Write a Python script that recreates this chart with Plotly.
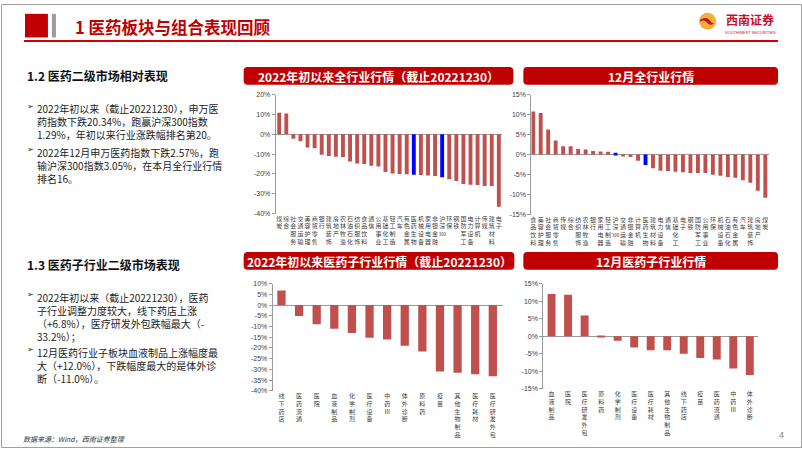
import re
import plotly.graph_objects as go

W, H = 802, 451

# ---------------- data ----------------
ytd_ind_cats = ["煤炭", "综合", "社会服务", "交通运输", "美容护理", "商贸零售", "银行", "建筑装饰",
                "房地产", "农林牧渔", "石油石化", "纺织服饰", "食品饮料", "通信", "公用事业", "基础化工",
                "轻工制造", "汽车", "有色金属", "医药生物", "机械设备", "家用电器", "非银金融", "沪深300",
                "环保", "钢铁", "国防军工", "电力设备", "计算机", "传媒", "建筑材料", "电子"]
ytd_ind_vals = [10.8, 10.5, -2.3, -3.5, -6.6, -7.0, -10.3, -10.9, -11.3, -11.5, -13.7, -14.7,
                -15.0, -15.8, -16.2, -19.0, -19.8, -20.0, -20.1, -20.34, -20.5, -20.8, -21.0, -21.63,
                -22.6, -23.5, -25.0, -25.4, -25.5, -26.0, -26.1, -36.5]

dec_ind_cats = ["食品饮料", "美容护理", "社会服务", "商贸零售", "传媒", "综合", "纺织服饰", "农林牧渔",
                "银行", "家用电器", "轻工制造", "沪深300", "交通运输", "非银金融", "计算机", "医药生物",
                "建筑材料", "电力设备", "通信", "基础化工", "电子", "钢铁", "国防军工", "公用事业",
                "环保", "机械设备", "石油石化", "有色金属", "汽车", "建筑装饰", "房地产", "煤炭"]
dec_ind_vals = [10.8, 10.4, 6.3, 3.5, 2.1, 2.1, 1.4, 1.3, 0.9, 0.8, 0.7, 0.48, -0.4, -0.6, -1.5,
                -2.57, -3.4, -4.0, -4.1, -4.3, -4.4, -4.6, -4.6, -4.6, -5.0, -5.3, -5.6, -5.8,
                -6.4, -7.0, -9.0, -10.8]

ytd_sub_cats = ["线下药店", "医药流通", "医院", "血液制品", "化学制剂", "医疗设备", "中药Ⅲ", "体外诊断",
                "原料药", "疫苗", "其他生物制品", "医疗耗材", "医疗研发外包"]
ytd_sub_vals = [6.8, -5.1, -9.0, -11.0, -13.0, -15.2, -16.0, -19.0, -21.7, -31.0, -31.6, -32.2, -33.2]

dec_sub_cats = ["血液制品", "医院", "医疗研发外包", "原料药", "化学制剂", "医疗设备", "医疗耗材",
                "其他生物制品", "线下药店", "疫苗", "医药流通", "中药Ⅲ", "体外诊断"]
dec_sub_vals = [12.0, 11.8, 5.9, -0.3, -1.3, -3.2, -4.0, -4.0, -5.0, -6.2, -6.6, -9.2, -11.0]

highlight = ["医药生物", "沪深300"]

ticks_40_20 = [20, 10, 0, -10, -20, -30, -40]
ticks_15 = [15, 10, 5, 0, -5, -10, -15]
ticks_10_40 = [10, 5, 0, -5, -10, -15, -20, -25, -30, -35, -40]

RED = "#C0504D"
BLUE = "#0000FF"
DARK_RED = "#C00000"

def X(px):
    return px / W

def Y(py):
    return 1 - py / H

def stack(label):
    parts = re.findall(r"[0-9]+|.", label)
    out = []
    for p in parts:
        if p.isdigit() and len(p) > 1:
            out.append(f'<span style="font-size:4.5px">{p}</span>')
        else:
            out.append(p)
    return "<br>".join(out)

fig = go.Figure()

charts = [
    (ytd_ind_cats, ytd_ind_vals, "", (275, 502, 92, 213), [-40, 20], ticks_40_20, [-0.5, 31.5], 0.55),
    (dec_ind_cats, dec_ind_vals, "2", (531, 769, 92, 214), [-15, 15], ticks_15, [-0.25, 31.5], 0.52),
    (ytd_sub_cats, ytd_sub_vals, "3", (272, 503, 284, 393), [-40, 10], ticks_10_40, [-0.5, 12.6], 0.47),
    (dec_sub_cats, dec_sub_vals, "4", (543, 758, 284, 391), [-15, 15], ticks_15, [-0.5, 12.5], 0.48),
]

layout_axes = {}
for cats, vals, sfx, (x0, x1, y0, y1), yr, tv, xr, bw in charts:
    colors = [BLUE if c in highlight else RED for c in cats]
    fig.add_trace(go.Bar(
        x=[stack(c) for c in cats], y=vals, marker=dict(color=colors, line=dict(width=0)),
        width=bw, xaxis="x" + sfx, yaxis="y" + sfx, showlegend=False,
        hovertemplate="%{y:.2f}%<extra></extra>"))
    layout_axes["xaxis" + sfx] = dict(
        domain=[X(x0), X(x1)], anchor="y" + sfx, range=xr, type="category",
        showline=False, showgrid=False, zeroline=False, ticks="",
        tickfont=dict(size=6, color="#404040", family="Noto Sans CJK SC"),
        tickangle=0, fixedrange=True)
    layout_axes["yaxis" + sfx] = dict(
        domain=[Y(y1), Y(y0)], anchor="x" + sfx, range=yr,
        tickvals=tv, ticktext=[f"{v}%" for v in tv],
        showline=True, linecolor="#9A9A9A", linewidth=1,
        ticks="outside", ticklen=3, tickcolor="#9A9A9A",
        showgrid=False, zeroline=True, zerolinecolor="#9A9A9A", zerolinewidth=1,
        tickfont=dict(size=7, color="#404040", family="Liberation Sans"),
        fixedrange=True)

fig.update_layout(**layout_axes)

shapes = []
annotations = []

# slide border
shapes.append(dict(type="rect", xref="paper", yref="paper", x0=X(0.5), x1=X(801.5), y0=Y(450.5), y1=Y(0.5),
                   line=dict(color="#A0A0A0", width=1), fillcolor="rgba(0,0,0,0)", layer="below"))

# title decorations
shapes.append(dict(type="rect", xref="paper", yref="paper", x0=X(24), x1=X(47), y0=Y(34), y1=Y(10),
                   fillcolor=DARK_RED, line=dict(width=0)))
shapes.append(dict(type="rect", xref="paper", yref="paper", x0=X(51), x1=X(55), y0=Y(34), y1=Y(10),
                   fillcolor="#9B9B9B", line=dict(width=0)))
shapes.append(dict(type="line", xref="paper", yref="paper", x0=X(23), x1=X(778), y0=Y(37.5), y1=Y(37.5),
                   line=dict(color="#D00000", width=2)))
annotations.append(dict(text="<b>1 医药板块与组合表现回顾</b>", x=X(72), y=Y(23), xref="paper", yref="paper",
                        xanchor="left", yanchor="middle", showarrow=False,
                        font=dict(size=16.5, color=DARK_RED, family="Noto Sans CJK SC")))

# logo
shapes.append(dict(type="circle", xref="paper", yref="paper", x0=X(699), x1=X(716), y0=Y(26), y1=Y(9),
                   fillcolor="#F2B134", line=dict(width=0)))
def P(px, py):
    return f"{X(px):.5f},{Y(py):.5f}"
shapes.append(dict(type="path", xref="paper", yref="paper",
                   path=f"M{P(700,16)} Q{P(707,12)} {P(710,17)} Q{P(712,21)} {P(715,19)} "
                        f"Q{P(710,23)} {P(707,19)} Q{P(704,15)} {P(700,18)} Z",
                   fillcolor="#C8102E", line=dict(width=0)))
annotations.append(dict(text="<b>西南证券</b>", x=X(750), y=Y(16), xref="paper", yref="paper",
                        xanchor="center", yanchor="middle", showarrow=False,
                        font=dict(size=12, color="#C8102E", family="Noto Sans CJK SC")))
annotations.append(dict(text="SOUTHWEST SECURITIES", x=X(750), y=Y(29), xref="paper", yref="paper",
                        xanchor="center", yanchor="middle", showarrow=False,
                        font=dict(size=4, color="#C8102E", family="Liberation Sans")))

# chart headers
def rrect(x0, y0, x1, y1, r):
    return (f"M{P(x0+r,y0)} L{P(x1-r,y0)} Q{P(x1,y0)} {P(x1,y0+r)} L{P(x1,y1-r)} "
            f"Q{P(x1,y1)} {P(x1-r,y1)} L{P(x0+r,y1)} Q{P(x0,y1)} {P(x0,y1-r)} "
            f"L{P(x0,y0+r)} Q{P(x0,y0)} {P(x0+r,y0)} Z")

headers = [
    ((243, 64, 513, 82), "2022年初以来全行业行情（截止20221230）"),
    ((523, 64, 778, 82), "12月全行业行情"),
    ((243, 252, 514, 270), "2022年初以来医药子行业行情（截止20221230）"),
    ((523, 252, 778, 270), "12月医药子行业行情"),
]
for (x0, y0, x1, y1), t in headers:
    shapes.append(dict(type="path", xref="paper", yref="paper", path=rrect(x0, y0, x1, y1, 4),
                       fillcolor=DARK_RED, line=dict(width=0)))
    annotations.append(dict(text=f"<b>{t}</b>", x=X((x0 + x1) / 2), y=Y((y0 + y1) / 2 + 0.5),
                            xref="paper", yref="paper", xanchor="center", yanchor="middle",
                            showarrow=False, font=dict(size=12, color="white", family="Noto Sans CJK SC")))

# left text
def heading(t, py):
    annotations.append(dict(text=f"<b>{t}</b>", x=X(24), y=Y(py), xref="paper", yref="paper",
                            xanchor="left", yanchor="middle", showarrow=False,
                            font=dict(size=12, color="#111111", family="Noto Sans CJK SC")))

def bullet(lines, py_first):
    annotations.append(dict(text="➢", x=X(24), y=Y(py_first), xref="paper", yref="paper",
                            xanchor="left", yanchor="middle", showarrow=False,
                            font=dict(size=8, color="#222222", family="DejaVu Sans")))
    annotations.append(dict(text="<br>".join(lines), x=X(35), y=Y(py_first - 6), xref="paper", yref="paper",
                            xanchor="left", yanchor="top", align="left", showarrow=False, borderpad=0,
                            font=dict(size=10, color="#222222", family="Noto Sans CJK SC")))

heading("1.2 医药二级市场相对表现", 73)
bullet(["2022年初以来（截止20221230），申万医",
        "药指数下跌20.34%，跑赢沪深300指数",
        "1.29%，年初以来行业涨跌幅排名第20。"], 104)
bullet(["2022年12月申万医药指数下跌2.57%，跑",
        "输沪深300指数3.05%，在本月全行业行情",
        "排名16。"], 148)

heading("1.3 医药子行业二级市场表现", 265)
bullet(["2022年初以来（截止20221230），医药",
        "子行业调整力度较大，线下药店上涨",
        "（+6.8%），医疗研发外包跌幅最大（-",
        "33.2%）；"], 295)
bullet(["12月医药行业子板块血液制品上涨幅度最",
        "大（+12.0%），下跌幅度最大的是体外诊",
        "断（-11.0%）。"], 351)

# footer
annotations.append(dict(text="<i>数据来源：Wind，西南证券整理</i>", x=X(20), y=Y(442), xref="paper", yref="paper",
                        xanchor="left", yanchor="middle", showarrow=False,
                        font=dict(size=7, color="#333333", family="Noto Sans CJK SC")))
annotations.append(dict(text="4", x=X(781), y=Y(438), xref="paper", yref="paper",
                        xanchor="center", yanchor="middle", showarrow=False,
                        font=dict(size=9, color="#808080", family="Liberation Sans")))

fig.update_layout(width=W, height=H, margin=dict(l=0, r=0, t=0, b=0),
                  paper_bgcolor="white", plot_bgcolor="white",
                  shapes=shapes, annotations=annotations, bargap=0.4)

fig.write_html("out.html", config={"displayModeBar": False},
               post_script="document.body.style.margin='0';document.body.style.overflow='hidden';")
